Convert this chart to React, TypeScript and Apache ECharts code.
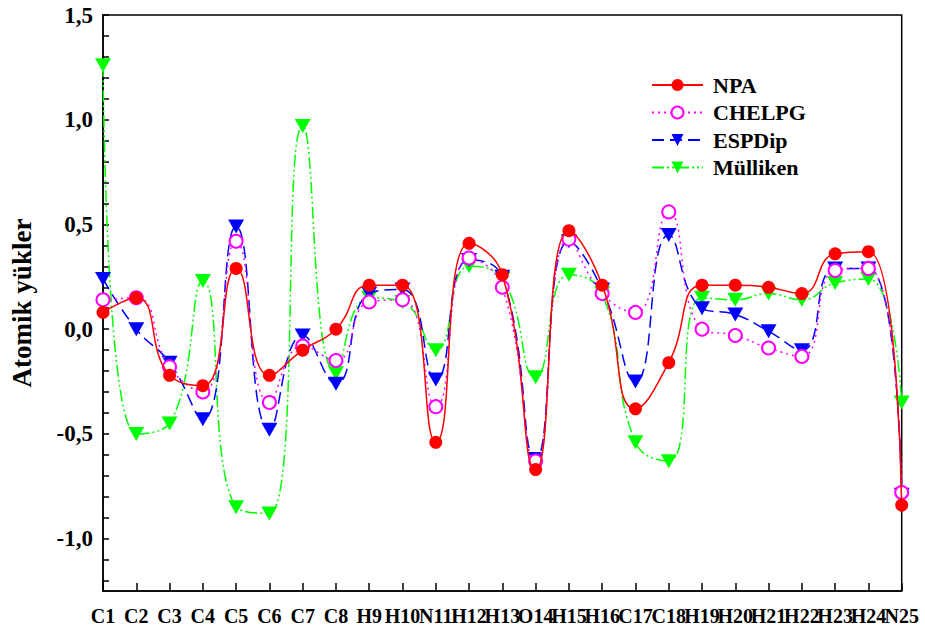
import React, { useEffect, useRef } from "react";
import * as echarts from "echarts";

const categories = ["C1","C2","C3","C4","C5","C6","C7","C8","H9","H10","N11","H12","H13","O14","H15","H16","C17","C18","H19","H20","H21","H22","H23","H24","N25"];

const npa = [0.08, 0.15, -0.22, -0.27, 0.29, -0.22, -0.10, 0.00, 0.21, 0.21, -0.54, 0.41, 0.26, -0.67, 0.47, 0.21, -0.38, -0.16, 0.21, 0.21, 0.20, 0.17, 0.36, 0.37, -0.84];
const chelpg = [0.14, 0.15, -0.18, -0.30, 0.42, -0.35, -0.08, -0.15, 0.13, 0.14, -0.37, 0.34, 0.20, -0.63, 0.43, 0.17, 0.08, 0.56, 0.00, -0.03, -0.09, -0.13, 0.28, 0.29, -0.78];
const espdip = [0.24, 0.00, -0.16, -0.43, 0.49, -0.48, -0.03, -0.26, 0.17, 0.19, -0.24, 0.33, 0.25, -0.62, 0.42, 0.19, -0.25, 0.45, 0.10, 0.07, -0.01, -0.10, 0.29, 0.29, -0.79];
const mulliken = [1.26, -0.50, -0.45, 0.23, -0.85, -0.88, 0.97, -0.21, 0.15, 0.13, -0.10, 0.30, 0.24, -0.23, 0.26, 0.17, -0.54, -0.63, 0.15, 0.14, 0.17, 0.14, 0.22, 0.24, -0.35];

const yMin = -1.25;
const yMax = 1.5;
const yLabelValues = [-1.0, -0.5, 0.0, 0.5, 1.0, 1.5];
const yTickValues = [-1.2, -1.1, -1.0, -0.9, -0.8, -0.7, -0.6, -0.5, -0.4, -0.3, -0.2, -0.1, 0.0, 0.1, 0.2, 0.3, 0.4, 0.5, 0.6, 0.7, 0.8, 0.9, 1.0, 1.1, 1.2, 1.3, 1.4, 1.5];
const yTitle = "Atomik yükler";

const FONT = '"Liberation Serif", "Times New Roman", serif';

export default function App() {
  const ref = useRef<HTMLDivElement>(null);
  useEffect(() => {
    if (!ref.current) return;
    const chart = echarts.init(ref.current, null, { renderer: "svg" });
    const fmt = (v: number) => (Math.round(v * 10) / 10).toFixed(1).replace(".", ",");
    chart.setOption({
      animation: false,
      backgroundColor: "#ffffff",
      grid: {
        left: 102.7,
        right: 23.3,
        top: 15,
        bottom: 39,
        show: true,
        borderColor: "#000",
        borderWidth: 1.5,
        backgroundColor: "transparent",
      },
      legend: {
        orient: "vertical",
        left: 646,
        top: 69,
        itemWidth: 51,
        itemHeight: 15,
        itemGap: 5.5,
        textStyle: { fontFamily: FONT, fontWeight: "bold", fontSize: 22, color: "#000", padding: [0, 0, 0, 5] },
        data: ["NPA", "CHELPG", "ESPDip", "Mülliken"],
      },
      xAxis: {
        type: "category",
        data: categories,
        boundaryGap: false,
        axisLine: { onZero: false, lineStyle: { color: "#000", width: 1.5 } },
        axisTick: { inside: true, length: 8, interval: 0, lineStyle: { color: "#000", width: 1.5 } },
        axisLabel: { interval: 0, fontFamily: FONT, fontWeight: "bold", fontSize: 20, color: "#000", margin: 15 },
        splitLine: { show: false },
      },
      yAxis: {
        type: "value",
        min: yMin,
        max: yMax,
        name: yTitle,
        nameLocation: "middle",
        nameRotate: 90,
        nameGap: 68,
        nameTextStyle: { fontFamily: FONT, fontWeight: "bold", fontSize: 27, color: "#000" },
        axisLine: { show: true, lineStyle: { color: "#000", width: 1.5 } },
        axisTick: { show: true, inside: true, length: 6, customValues: yTickValues, lineStyle: { color: "#000", width: 1.5 } },
        axisLabel: { fontFamily: FONT, fontWeight: "bold", fontSize: 23, color: "#000", margin: 10, formatter: fmt, customValues: yLabelValues },
        splitLine: { show: false },
      },
      series: [
        {
          name: "Mülliken",
          type: "line",
          data: mulliken,
          smooth: true,
          symbol: "triangle",
          symbolRotate: 180,
          symbolSize: [16, 14],
          itemStyle: { color: "#00ff00" },
          lineStyle: { color: "#00ff00", width: 1.5, type: [12, 3, 2, 3, 2, 3] },
          z: 2,
        },
        {
          name: "ESPDip",
          type: "line",
          data: espdip,
          smooth: true,
          symbol: "triangle",
          symbolRotate: 180,
          symbolSize: [16, 14],
          itemStyle: { color: "#0000ff" },
          lineStyle: { color: "#0000ff", width: 1.5, type: [12, 6] },
          z: 3,
        },
        {
          name: "CHELPG",
          type: "line",
          data: chelpg,
          smooth: true,
          symbol: "emptyCircle",
          symbolSize: 13,
          itemStyle: { color: "#ff00ff", borderWidth: 1.5 },
          lineStyle: { color: "#ff00ff", width: 1.5, type: [2, 4] },
          z: 4,
        },
        {
          name: "NPA",
          type: "line",
          data: npa,
          smooth: true,
          symbol: "circle",
          symbolSize: 13,
          itemStyle: { color: "#ff0000" },
          lineStyle: { color: "#ff0000", width: 1.5, type: "solid" },
          z: 5,
        },
      ],
    });
    return () => chart.dispose();
  }, []);
  return <div ref={ref} style={{ position: "fixed", left: 0, top: 0, width: 925, height: 630 }} />;
}
